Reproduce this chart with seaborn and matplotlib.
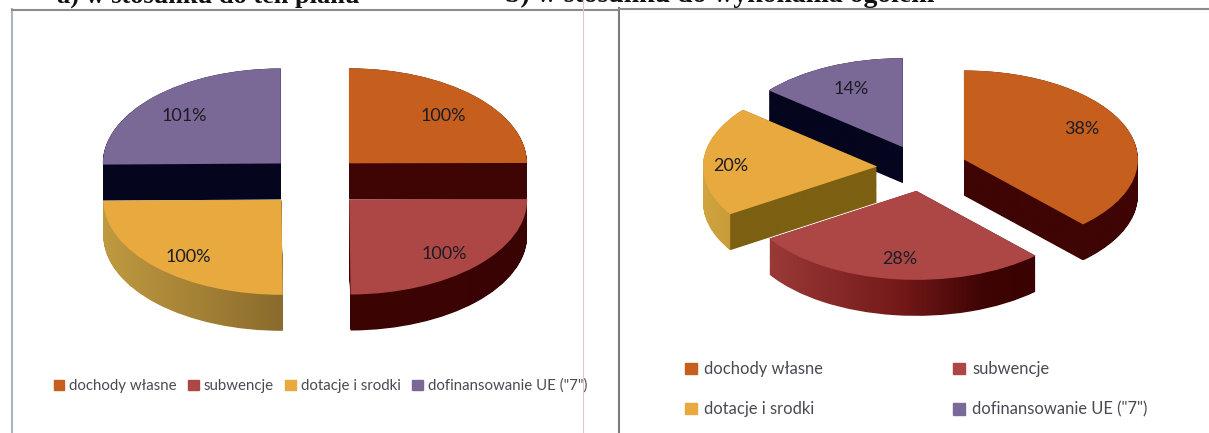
"""Two exploded pseudo-3D pies: revenue structure against plan and against total."""
import matplotlib
matplotlib.use("Agg")
import matplotlib.pyplot as plt
import numpy as np
import seaborn as sns
from matplotlib.colors import LinearSegmentedColormap
from matplotlib.lines import Line2D
from matplotlib.patches import Patch
from matplotlib.path import Path

W, H = 1209, 433

CATEGORIES = ["dochody własne", "subwencje", "dotacje i srodki", 'dofinansowanie UE ("7")']
VALUES_A = [100, 100, 100, 101]
VALUES_B = [38, 28, 20, 14]
TITLE_A = "a) w stosunku do ten planu"
TITLE_B = "b) w stosunku do wykonania ogółem"

TOP_COLORS = ["#c65f1e", "#ad4746", "#e8a93f", "#7a6896"]

# back to front
ORDER = [3, 0, 1, 2]


def side_stops_a(i):
    return {
        0: [(0, "#3f0505"), (1, "#3f0505")],
        1: [(0, "#3d0404"), (1, "#3a0303")],
        2: [(0, "#c09a40"), (1, "#8a6b2c")],
        3: [(0, "#05051e"), (1, "#05051e")],
    }[i]


def side_stops_b(i):
    return {
        0: [(0, "#3f0404"), (1, "#3f0404")],
        1: [(0, "#9a3a38"), (0.5, "#731818"), (0.8, "#3f0404"), (1, "#3a0202")],
        2: [(0, "#d0a43f"), (0.155, "#c89c38"), (0.155, "#7d6012"), (1, "#7d6012")],
        3: [(0, "#05051e"), (1, "#05051e")],
    }[i]


def pie_kw(values, explode):
    return dict(x=values, explode=[explode] * len(values), startangle=90,
                counterclock=False, frame=True, labeldistance=None)


def draw_pie(ax, values, labels, explode, depth, stops, nudges):
    for k, i in enumerate(ORDER):
        # sweep the slice downwards to get the outline of its side
        paths = []
        for d in np.linspace(0, depth, 40):
            wedges, _ = ax.pie(center=(0, -d), **pie_kw(values, explode))
            paths.append(wedges[i].get_path())
            for w in wedges:
                w.remove()
        swept = Path.make_compound_path(*paths)
        box = swept.get_extents()
        cmap = LinearSegmentedColormap.from_list("side", stops(i), N=512)
        im = ax.imshow(np.linspace(0, 1, 512)[None, :], cmap=cmap, aspect="auto",
                       extent=[box.x0, box.x1, box.y0, box.y1], zorder=2 * k + 1)
        im.set_clip_path(swept, ax.transData)

        # top face with its label
        names = iter(labels)
        wedges, _, autotexts = ax.pie(
            colors=TOP_COLORS, pctdistance=0.75,
            autopct=lambda p: next(names),
            wedgeprops=dict(zorder=2 * k + 2, lw=0),
            textprops=dict(fontsize=13, color="#1c1c24", family="Lato", zorder=50),
            **pie_kw(values, explode))
        for j, (w, t) in enumerate(zip(wedges, autotexts)):
            if j != i:
                w.remove()
                t.remove()
            else:
                x, y = t.get_position()
                t.set_position((x + nudges[i][0], y + nudges[i][1]))


def panel(fig, x0, x1, y0, cx, cy, rx, ry):
    ax = fig.add_axes([x0 / W, 0, (x1 - x0) / W, (H - y0) / H])
    ax._pie_limits = ((x0 - cx) / rx, (x1 - cx) / rx, (cy - H) / ry, (cy - y0) / ry)
    return ax


def finish(ax):
    xa, xb, ya, yb = ax._pie_limits
    ax.set_aspect("auto")
    ax.set_xlim(xa, xb)
    ax.set_ylim(ya, yb)
    ax.set_xticks([])
    ax.set_yticks([])
    sns.despine(ax=ax, right=True, bottom=True, top=False, left=False)


def handles(order):
    return [Patch(color=TOP_COLORS[i], label=CATEGORIES[i]) for i in order]


def main():
    sns.set_theme(style="white")
    plt.rcParams["font.family"] = ["Lato", "DejaVu Sans"]
    fig = plt.figure(figsize=(W / 100, H / 100), dpi=100, facecolor="white")

    ax_a = panel(fig, 11.5, 619, 9.5, 315, 181.5, 178, 95)
    draw_pie(ax_a, VALUES_A, ["100%", "100%", "100%", "101%"], 0.27, 36 / 95,
             side_stops_a, [(0, -0.03), (0, -0.05), (0, -0.07), (-0.01, -0.03)])
    finish(ax_a)
    ax_a.spines["left"].set(color="#aab4bb", lw=1.5)
    ax_a.spines["top"].set(color="#8c8c8c", lw=1.5)
    ax_a.legend(handles=handles([0, 1, 2, 3]), ncol=4, frameon=False, fontsize=10.8,
                labelcolor="#4a4a55", handlelength=0.7, handleheight=0.7,
                handletextpad=0.35, columnspacing=0.75, loc="center left",
                bbox_to_anchor=(42 / 607.5, 47 / 423.5), borderaxespad=0, borderpad=0)

    ax_b = panel(fig, 619, W + 2, 8.5, 922, 168, 174, 89)
    draw_pie(ax_b, VALUES_B, ["38%", "28%", "20%", "14%"], 0.259, 36 / 89,
             side_stops_b, [(-0.02, 0.07), (0, -0.02), (-0.09, -0.04), (0.02, -0.02)])
    finish(ax_b)
    ax_b.spines["left"].set(color="#7c7c7c", lw=1.5)
    ax_b.spines["top"].set(color="#8c8c8c", lw=1.5)
    ax_b.legend(handles=handles([0, 2, 1, 3]), ncol=2, frameon=False, fontsize=11.9,
                labelcolor="#4a4a55", handlelength=0.7, handleheight=0.7,
                handletextpad=0.45, columnspacing=7.9, labelspacing=1.45,
                loc="center left", bbox_to_anchor=(66 / 592, 43.5 / 424.5),
                borderaxespad=0, borderpad=0)

    fig.add_artist(Line2D([582.5 / W] * 2, [0, 1], color="#f2bcc8", lw=0.8, zorder=10))
    for x, title, size in [(57, TITLE_A, 19), (505, TITLE_B, 20)]:
        fig.text(x / W, 1 - 2.5 / H, title, family="Liberation Serif", weight="bold",
                 fontsize=size, color="#111111", ha="left", va="baseline")

    fig.savefig("out.png", dpi=100)


if __name__ == "__main__":
    main()
